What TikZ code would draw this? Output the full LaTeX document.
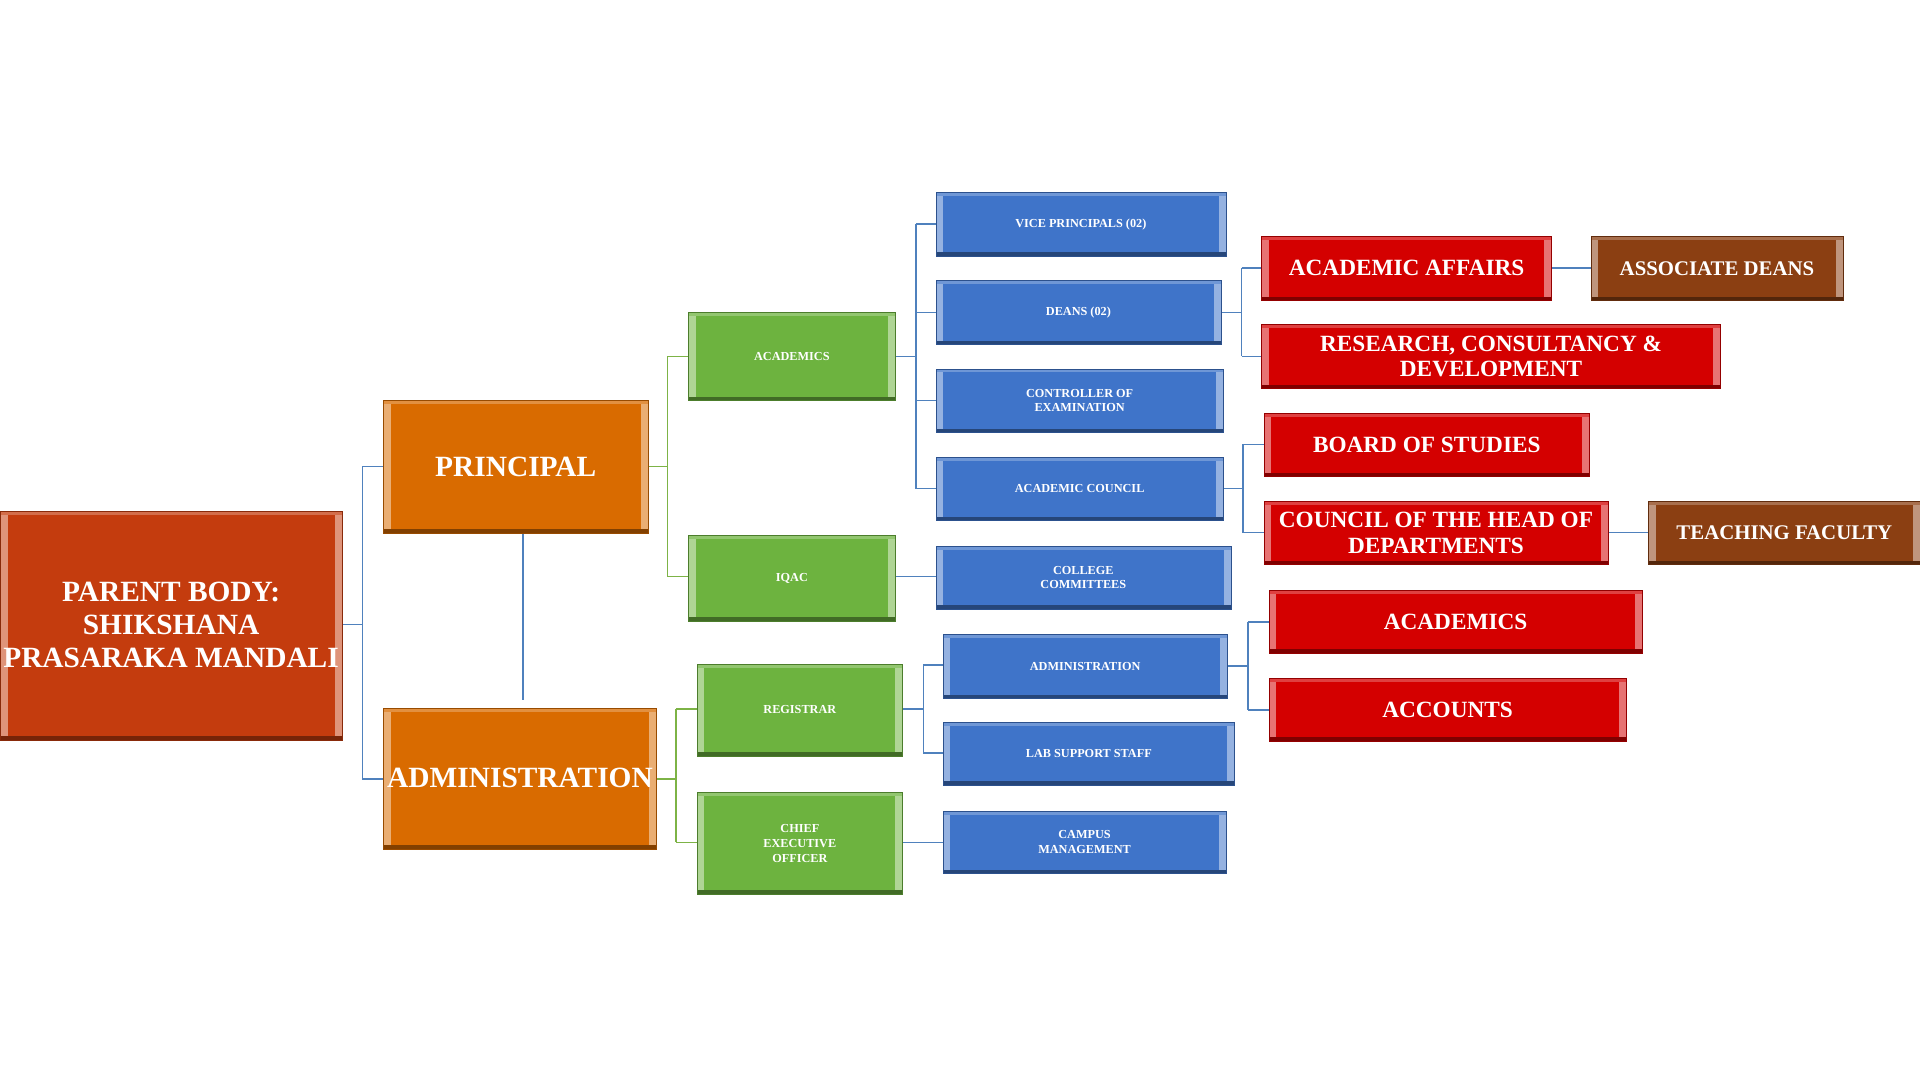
\documentclass[tikz,border=0pt]{standalone}
\usepackage{fontspec}
\setmainfont{Liberation Serif}
\definecolor{cpar}{HTML}{C43C0E}
\definecolor{corg}{HTML}{D96B00}
\definecolor{cgrn}{HTML}{6DB33F}
\definecolor{cblu}{HTML}{3F74C9}
\definecolor{cred}{HTML}{D40000}
\definecolor{cbrn}{HTML}{8B3F12}
\definecolor{lblu}{HTML}{4F81BD}
\definecolor{lgrn}{HTML}{7DB346}
\tikzset{
  box/.style={draw=#1!70!black, fill=#1, text=white, align=center, inner sep=2pt, font=\bfseries\fontsize{21}{23}\selectfont,
    path picture={\fill[#1!55!white] (path picture bounding box.north west) rectangle ([xshift=6pt]path picture bounding box.south west);
                  \fill[#1!55!white] (path picture bounding box.north east) rectangle ([xshift=-6pt]path picture bounding box.south east);
                  \fill[#1!75!white] (path picture bounding box.north west) rectangle ([yshift=-3pt]path picture bounding box.north east);
                  \fill[#1!60!black] (path picture bounding box.south west) rectangle ([yshift=3pt]path picture bounding box.south east);}},
  bl/.style={draw=lblu, line width=1.2pt},
  gl/.style={draw=lgrn, line width=1.2pt}
}
\newcommand{\bx}[7]{\path[box=#1] (#3,#4) rectangle (#5,#6);
  \node[text=white, align=center, font=#7] (#2) at ({(#3+#5)/2},{(#4+#6)/2}) {};}
\begin{document}
\begin{tikzpicture}[x=1pt,y=-1pt]
\useasboundingbox (0,0) rectangle (1568,882);
\def\B#1#2#3#4#5#6#7{\node[box=#1, minimum width={#5-#3}, minimum height={#6-#4}, anchor=north west, font=#7] (#2) at (#3,#4) {};}
% connectors
\draw[bl] (279,510) -- (296,510); \draw[bl] (296,381)--(296,636);
\draw[bl] (296,381)--(313,381); \draw[bl] (296,636)--(313,636);
\draw[bl] (427,435)--(427,572);
\draw[gl] (529,381)--(545,381); \draw[gl] (545,291)--(545,471);
\draw[gl] (545,291)--(562,291); \draw[gl] (545,471)--(562,471);
\draw[gl] (536,636)--(552,636); \draw[gl] (552,579)--(552,688);
\draw[gl] (552,579)--(569,579); \draw[gl] (552,688)--(569,688);
\draw[bl] (731,291)--(748,291); \draw[bl] (748,183)--(748,399);
\foreach \y in {183,255,327,399} \draw[bl] (748,\y)--(764,\y);
\draw[bl] (731,471)--(764,471);
\draw[bl] (737,579)--(754,579); \draw[bl] (754,543)--(754,615);
\draw[bl] (754,543)--(770,543); \draw[bl] (754,615)--(770,615);
\draw[bl] (737,688)--(770,688);
\draw[bl] (997,255)--(1014,255); \draw[bl] (1014,219)--(1014,291);
\draw[bl] (1014,219)--(1030,219); \draw[bl] (1014,291)--(1030,291);
\draw[bl] (999,399)--(1015,399); \draw[bl] (1015,363)--(1015,435);
\draw[bl] (1015,363)--(1032,363); \draw[bl] (1015,435)--(1032,435);
\draw[bl] (1002,544)--(1019,544); \draw[bl] (1019,508)--(1019,580);
\draw[bl] (1019,508)--(1036,508); \draw[bl] (1019,580)--(1036,580);
\draw[bl] (1267,219)--(1299,219);
\draw[bl] (1313,435)--(1346,435);
% boxes
\newcommand{\mk}[8]{\node[box=#1, minimum width=#5pt-#3pt, minimum height=#6pt-#4pt, anchor=north west, font=\bfseries#7] (#2) at (#3,#4) {#8};}
\mk{cpar}{parent}{0}{417}{279}{604}{\fontsize{24}{27}\selectfont}{PARENT BODY:\\SHIKSHANA\\PRASARAKA MANDALI}
\mk{corg}{principal}{313}{327}{529}{435}{\fontsize{24}{27}\selectfont}{PRINCIPAL}
\mk{corg}{admin}{313}{578}{536}{693}{\fontsize{24}{27}\selectfont}{ADMINISTRATION}
\mk{cgrn}{acad}{562}{255}{731}{327}{}{ACADEMICS}
\mk{cgrn}{iqac}{562}{437}{731}{507}{}{IQAC}
\mk{cgrn}{reg}{569}{542}{737}{617}{}{REGISTRAR}
\mk{cgrn}{ceo}{569}{647}{737}{730}{}{CHIEF\\EXECUTIVE\\OFFICER}
\mk{cblu}{vp}{764}{157}{1001}{209}{}{VICE PRINCIPALS (02)}
\mk{cblu}{deans}{764}{229}{997}{281}{}{DEANS (02)}
\mk{cblu}{coe}{764}{301}{999}{353}{}{CONTROLLER OF\\EXAMINATION}
\mk{cblu}{ac}{764}{373}{999}{425}{}{ACADEMIC COUNCIL}
\mk{cblu}{cc}{764}{446}{1005}{497}{}{COLLEGE\\COMMITTEES}
\mk{cblu}{badm}{770}{518}{1002}{570}{}{ADMINISTRATION}
\mk{cblu}{lab}{770}{590}{1008}{641}{}{LAB SUPPORT STAFF}
\mk{cblu}{camp}{770}{662}{1001}{713}{}{CAMPUS\\MANAGEMENT}
\mk{cred}{aa}{1030}{193}{1267}{245}{\fontsize{19}{21}\selectfont}{ACADEMIC AFFAIRS}
\mk{cred}{rcd}{1030}{265}{1405}{317}{\fontsize{19}{21}\selectfont}{RESEARCH, CONSULTANCY \&\\DEVELOPMENT}
\mk{cred}{bos}{1032}{337}{1298}{389}{\fontsize{19}{21}\selectfont}{BOARD OF STUDIES}
\mk{cred}{chod}{1032}{409}{1313}{461}{\fontsize{19}{21}\selectfont}{COUNCIL OF THE HEAD OF\\DEPARTMENTS}
\mk{cred}{racad}{1036}{482}{1341}{533}{\fontsize{19}{21}\selectfont}{ACADEMICS}
\mk{cred}{acc}{1036}{554}{1328}{605}{\fontsize{19}{21}\selectfont}{ACCOUNTS}
\mk{cbrn}{ad}{1299}{193}{1505}{245}{\fontsize{17}{19}\selectfont}{ASSOCIATE DEANS}
\mk{cbrn}{tf}{1346}{409}{1568}{461}{\fontsize{17}{19}\selectfont}{TEACHING FACULTY}
\end{tikzpicture}
\end{document}
